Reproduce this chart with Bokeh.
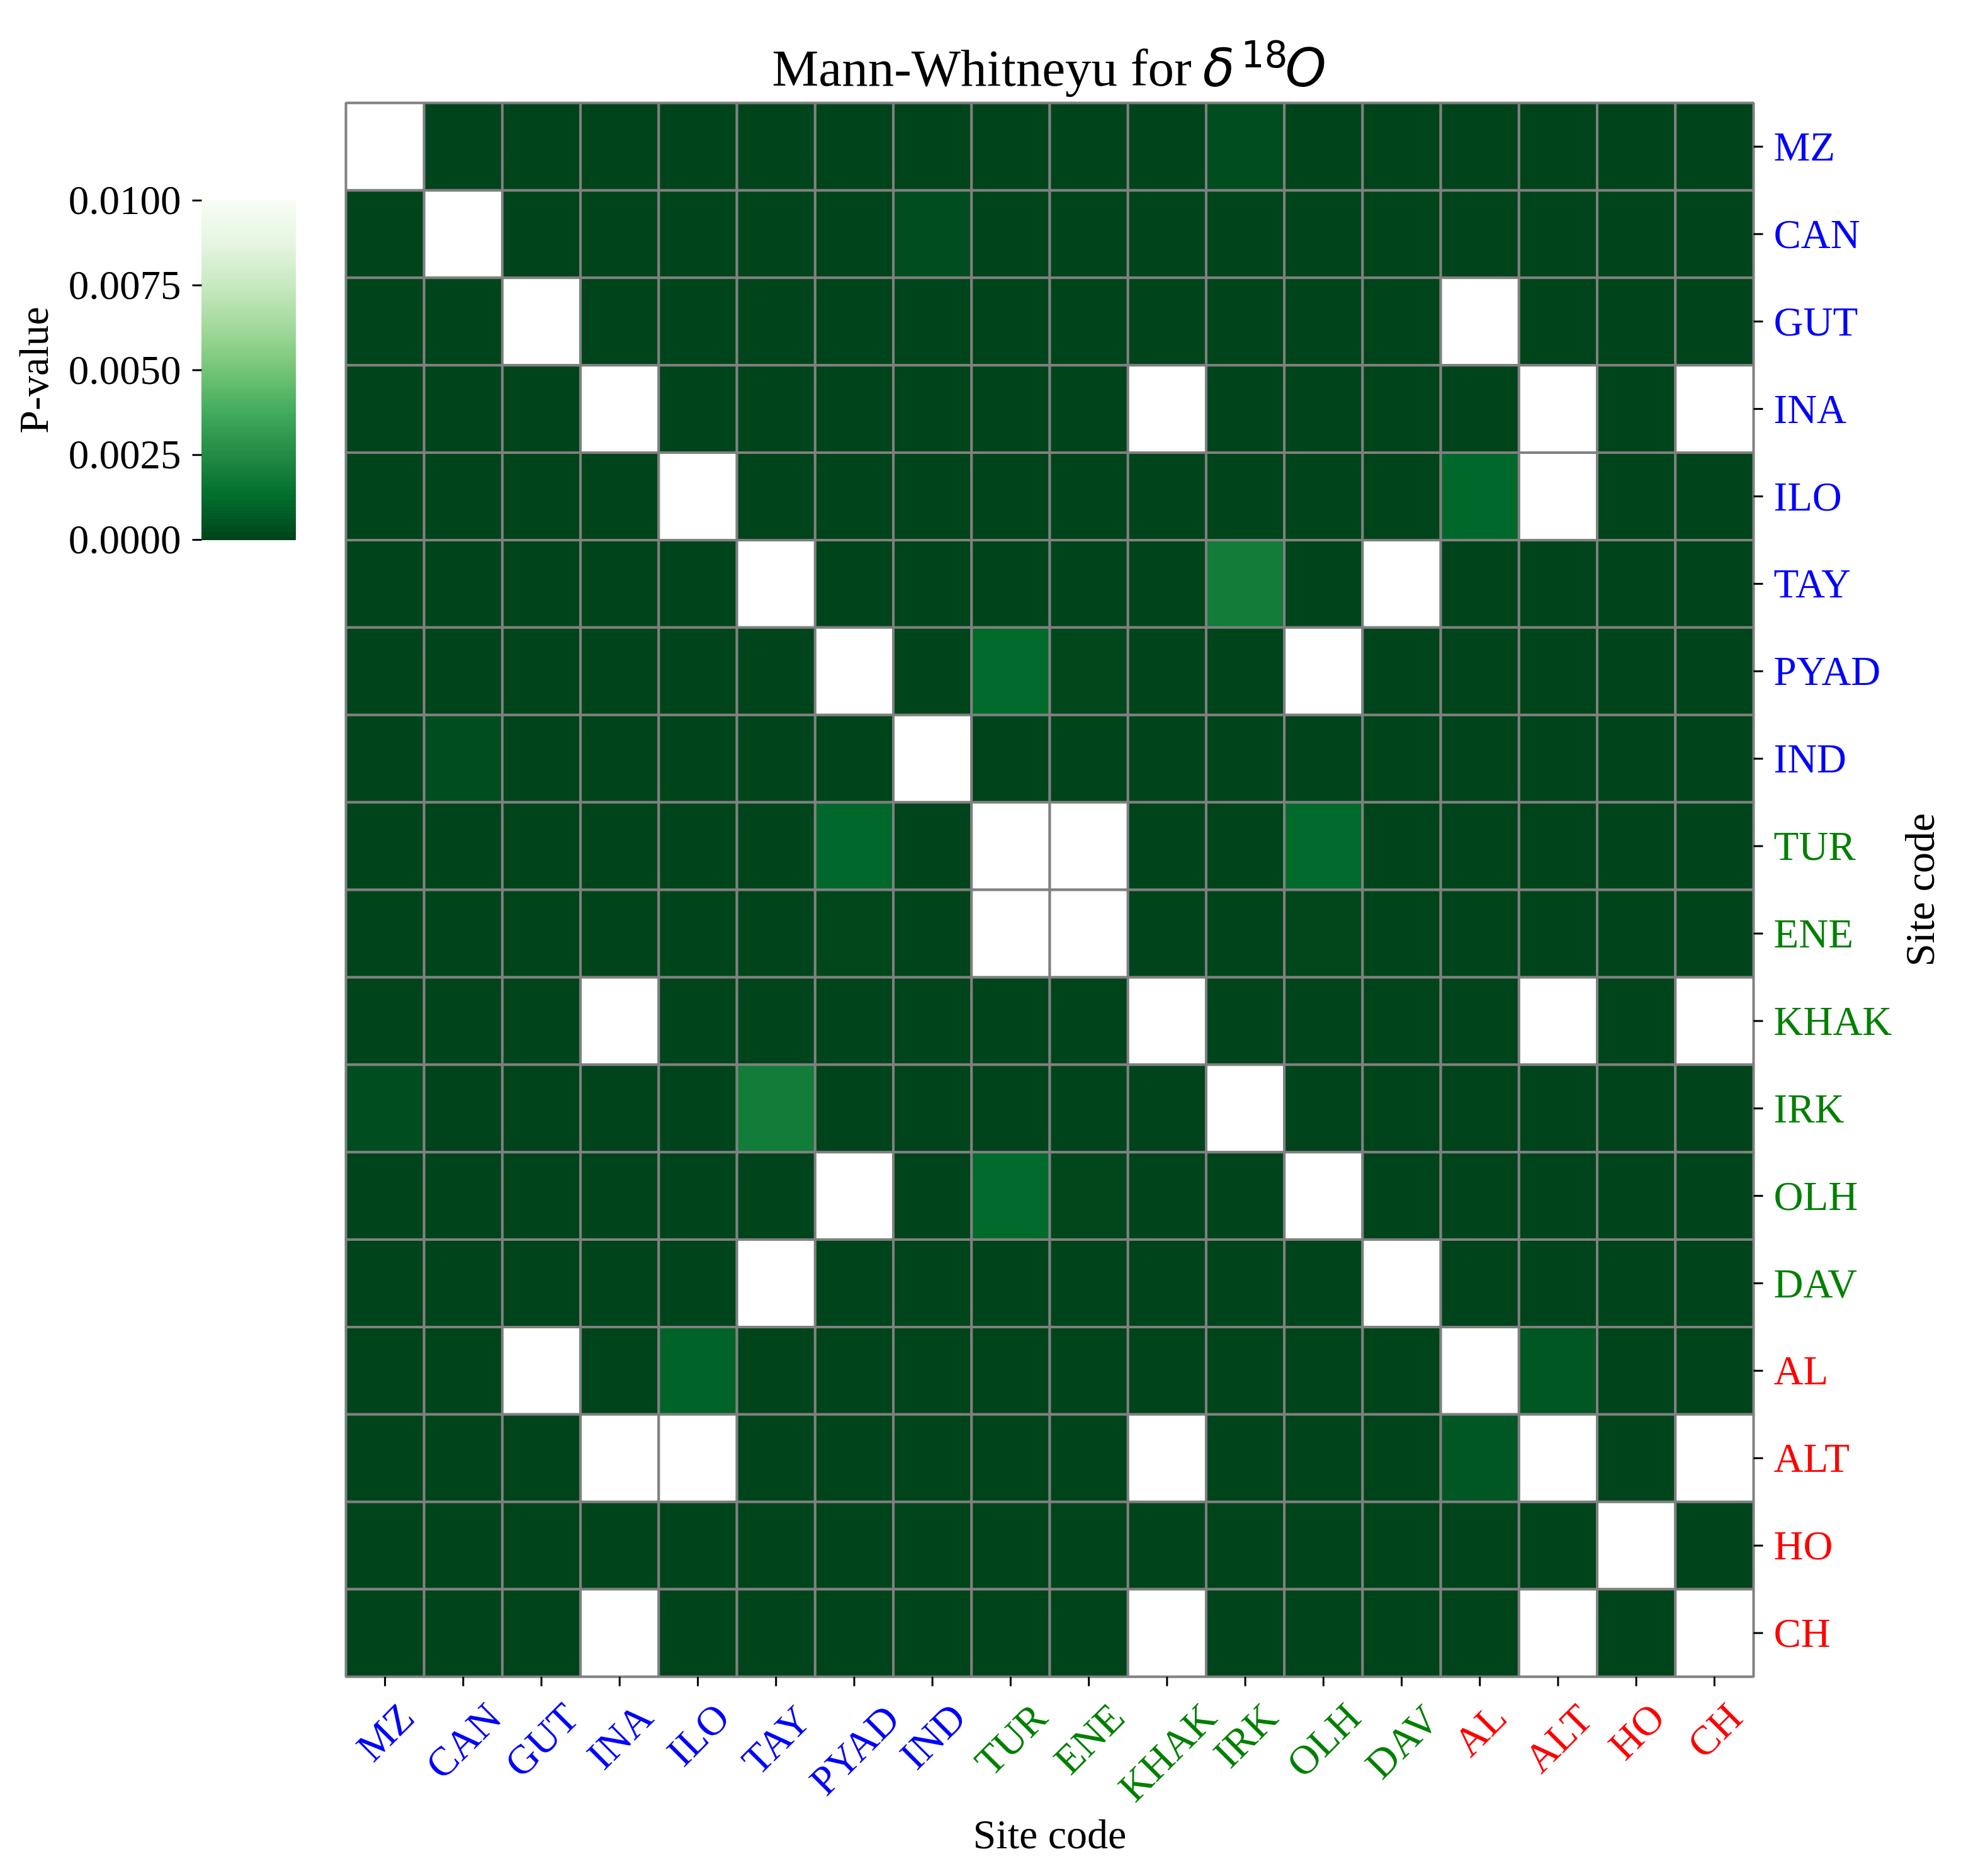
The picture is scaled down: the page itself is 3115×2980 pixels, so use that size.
import numpy as np
from bokeh.plotting import figure
from bokeh.models import ColumnDataSource, Range1d, LinearColorMapper
from bokeh.core.properties import value
from bokeh.embed import file_html
from bokeh.resources import INLINE
from bokeh.palettes import Greens9

nan = float("nan")

# ---------------- data ----------------
sites = ["MZ", "CAN", "GUT", "INA", "ILO", "TAY", "PYAD", "IND", "TUR",
         "ENE", "KHAK", "IRK", "OLH", "DAV", "AL", "ALT", "HO", "CH"]
site_region = ["blue"] * 8 + ["green"] * 6 + ["red"] * 4

p_MZ   = [nan, 1e-05, 1e-05, 1e-05, 1e-05, 1e-05, 1e-05, 1e-05, 1e-05, 1e-05, 1e-05, 0.00035, 1e-05, 1e-05, 1e-05, 1e-05, 1e-05, 1e-05]
p_CAN  = [1e-05, nan, 1e-05, 1e-05, 1e-05, 1e-05, 1e-05, 0.00035, 1e-05, 1e-05, 1e-05, 1e-05, 1e-05, 1e-05, 1e-05, 1e-05, 1e-05, 1e-05]
p_GUT  = [1e-05, 1e-05, nan, 1e-05, 1e-05, 1e-05, 1e-05, 1e-05, 1e-05, 1e-05, 1e-05, 1e-05, 1e-05, 1e-05, 0.045, 1e-05, 1e-05, 1e-05]
p_INA  = [1e-05, 1e-05, 1e-05, nan, 1e-05, 1e-05, 1e-05, 1e-05, 1e-05, 1e-05, 0.21, 1e-05, 1e-05, 1e-05, 1e-05, 0.12, 1e-05, 0.34]
p_ILO  = [1e-05, 1e-05, 1e-05, 1e-05, nan, 1e-05, 1e-05, 1e-05, 1e-05, 1e-05, 1e-05, 1e-05, 1e-05, 1e-05, 0.0011, 0.028, 1e-05, 1e-05]
p_TAY  = [1e-05, 1e-05, 1e-05, 1e-05, 1e-05, nan, 1e-05, 1e-05, 1e-05, 1e-05, 1e-05, 0.0019, 1e-05, 0.062, 1e-05, 1e-05, 1e-05, 1e-05]
p_PYAD = [1e-05, 1e-05, 1e-05, 1e-05, 1e-05, 1e-05, nan, 1e-05, 0.0012, 0.0001, 1e-05, 1e-05, 0.15, 1e-05, 1e-05, 1e-05, 1e-05, 1e-05]
p_IND  = [1e-05, 0.00035, 1e-05, 1e-05, 1e-05, 1e-05, 1e-05, nan, 1e-05, 1e-05, 1e-05, 1e-05, 1e-05, 1e-05, 1e-05, 1e-05, 1e-05, 1e-05]
p_TUR  = [1e-05, 1e-05, 1e-05, 1e-05, 1e-05, 1e-05, 0.0011, 1e-05, nan, 0.41, 1e-05, 1e-05, 0.0012, 1e-05, 1e-05, 1e-05, 1e-05, 1e-05]
p_ENE  = [1e-05, 1e-05, 1e-05, 1e-05, 1e-05, 1e-05, 0.0001, 1e-05, 0.41, nan, 1e-05, 1e-05, 0.0001, 1e-05, 1e-05, 1e-05, 1e-05, 1e-05]
p_KHAK = [1e-05, 1e-05, 1e-05, 0.21, 1e-05, 1e-05, 1e-05, 1e-05, 1e-05, 1e-05, nan, 1e-05, 1e-05, 1e-05, 1e-05, 0.09, 1e-05, 0.27]
p_IRK  = [0.00035, 1e-05, 1e-05, 1e-05, 1e-05, 0.0019, 1e-05, 1e-05, 1e-05, 1e-05, 1e-05, nan, 1e-05, 1e-05, 1e-05, 1e-05, 1e-05, 1e-05]
p_OLH  = [1e-05, 1e-05, 1e-05, 1e-05, 1e-05, 1e-05, 0.15, 1e-05, 0.0012, 0.0001, 1e-05, 1e-05, nan, 1e-05, 1e-05, 1e-05, 1e-05, 1e-05]
p_DAV  = [1e-05, 1e-05, 1e-05, 1e-05, 1e-05, 0.062, 1e-05, 1e-05, 1e-05, 1e-05, 1e-05, 1e-05, 1e-05, nan, 1e-05, 1e-05, 1e-05, 1e-05]
p_AL   = [1e-05, 1e-05, 0.045, 1e-05, 0.001, 1e-05, 1e-05, 1e-05, 1e-05, 1e-05, 1e-05, 1e-05, 1e-05, 1e-05, nan, 0.0006, 1e-05, 1e-05]
p_ALT  = [1e-05, 1e-05, 1e-05, 0.12, 0.028, 1e-05, 1e-05, 1e-05, 1e-05, 1e-05, 0.09, 1e-05, 1e-05, 1e-05, 0.0006, nan, 1e-05, 0.52]
p_HO   = [1e-05, 1e-05, 1e-05, 1e-05, 1e-05, 1e-05, 1e-05, 1e-05, 1e-05, 1e-05, 1e-05, 1e-05, 1e-05, 1e-05, 1e-05, 1e-05, nan, 1e-05]
p_CH   = [1e-05, 1e-05, 1e-05, 0.34, 1e-05, 1e-05, 1e-05, 1e-05, 1e-05, 1e-05, 0.27, 1e-05, 1e-05, 1e-05, 1e-05, 0.52, 1e-05, nan]

pvalue_rows = [p_MZ, p_CAN, p_GUT, p_INA, p_ILO, p_TAY, p_PYAD, p_IND, p_TUR,
               p_ENE, p_KHAK, p_IRK, p_OLH, p_DAV, p_AL, p_ALT, p_HO, p_CH]

cbar_ticks = [0.0, 0.0025, 0.005, 0.0075, 0.01]
p_low, p_high = 0.0, 0.01

# ---------------- colour map (Greens, reversed) ----------------
def interp_palette(colors, n):
    rgb = np.array([[int(c[i:i + 2], 16) for i in (1, 3, 5)] for c in colors], float)
    pos = np.linspace(0, 1, len(colors))
    t = np.linspace(0, 1, n)
    out = np.stack([np.interp(t, pos, rgb[:, k]) for k in range(3)], axis=1)
    return ["#%02x%02x%02x" % tuple(int(round(v)) for v in c) for c in out]

palette = interp_palette(list(Greens9), 256)  # dark -> light
mapper = LinearColorMapper(palette=palette, low=p_low, high=p_high,
                           high_color="white", nan_color="white")

# ---------------- layout (canvas pixels) ----------------
CW, CH = 3100, 2970
HM_L, HM_R, HM_T, HM_B = 549, 2785, 163, 2663      # heat-map frame
CB_L, CB_R, CB_T, CB_B = 320, 469, 318, 857        # colour bar
N = len(sites)
sx = (HM_R - HM_L) / N
sy = (HM_B - HM_T) / N
dx = 1.0 / sx   # data units per pixel (x)
dy = 1.0 / sy   # data units per pixel (y)

def X(px):
    return (px - HM_L) / sx

def Y(py):
    return (HM_B - py) / sy

SERIF = value("Liberation Serif")
SANS = value("DejaVu Sans")
FS = 65
MID = 0.35  # distance (em) from alphabetic baseline to the text "middle"

p = figure(frame_width=CW, frame_height=CH,
           x_range=Range1d(X(0), X(CW)), y_range=Range1d(Y(CH), Y(0)),
           x_axis_location=None, y_axis_location=None, min_border=0,
           toolbar_location=None, tools="", output_backend="svg",
           background_fill_color="white", border_fill_color="white")
p.grid.visible = False
p.outline_line_color = None

cbw = CB_R - CB_L
cbh = CB_B - CB_T
span = p_high - p_low
p.extra_x_ranges = {"cbx": Range1d(-CB_L / cbw, (CW - CB_L) / cbw)}
p.extra_y_ranges = {"cby": Range1d(p_low - (CH - CB_B) / cbh * span,
                                   p_low + CB_B / cbh * span)}

# ---------------- heat map cells ----------------
xs, ys, vals = [], [], []
for i, r in enumerate(pvalue_rows):
    for j, v in enumerate(r):
        xs.append(j + 0.5)
        ys.append(N - 0.5 - i)
        vals.append(v)
src = ColumnDataSource(dict(x=xs, y=ys, p=vals))
p.rect(x="x", y="y", width=1, height=1, source=src,
       fill_color={"field": "p", "transform": mapper},
       line_color="#808080", line_width=4)

# ---------------- ticks ----------------
centers = [k + 0.5 for k in range(N)]
p.segment(x0=centers, x1=centers, y0=[0] * N, y1=[-15 * dy] * N,
          line_color="black", line_width=3)
rows_c = [N - 0.5 - k for k in range(N)]
p.segment(x0=[N] * N, x1=[N + 15 * dx] * N, y0=rows_c, y1=rows_c,
          line_color="black", line_width=3)

# Times-like advance widths (per 1000 em), used to centre rotated labels
adv = dict(A=722, C=667, D=722, E=611, G=722, H=722, I=333, K=722, L=611, M=889,
           N=722, O=722, P=556, R=667, T=611, U=722, V=722, Y=722, Z=611)
ylab_pos = []
for s in sites:
    w = sum(adv[c] for c in s) / 1000.0 * FS
    ylab_pos.append(-(38 + 0.354 * (w + 0.662 * FS)) * dy)

xl = ColumnDataSource(dict(x=centers, y=ylab_pos, text=sites, color=site_region))
p.text(x="x", y="y", text="text", source=xl, text_color="color",
       angle=np.pi / 4, text_align="center", text_baseline="middle",
       text_font=SERIF, text_font_size=f"{FS}px")

yl = ColumnDataSource(dict(x=[N + 32 * dx] * N, y=rows_c, text=sites, color=site_region))
p.text(x="x", y="y", text="text", source=yl, text_color="color",
       text_align="left", text_baseline="middle",
       text_font=SERIF, text_font_size=f"{FS}px")

# axis titles (baseline targets: bottom 2936, right 3072)
p.text(x=[N / 2], y=[Y(2936 - MID * 66)], text=["Site code"], text_color="black",
       text_align="center", text_baseline="middle",
       text_font=SERIF, text_font_size="66px")
p.text(x=[X(3072 - MID * 66)], y=[N / 2], text=["Site code"], text_color="black",
       angle=np.pi / 2, text_align="center", text_baseline="middle",
       text_font=SERIF, text_font_size="66px")

# title: Mann-Whitneyu for δ^18 O   (baseline 137, superscript baseline 105)
p.text(x=[X(1226)], y=[Y(137 - MID * 83)], text=["Mann-Whitneyu for"], text_color="black",
       text_align="left", text_baseline="middle",
       text_font=SERIF, text_font_size="83px")
p.text(x=[X(1910)], y=[Y(137 - MID * 83)], text=["δ"], text_color="black",
       text_align="left", text_baseline="middle",
       text_font=SANS, text_font_style="italic", text_font_size="83px")
p.text(x=[X(1971)], y=[Y(105 - MID * 58)], text=["18"], text_color="black",
       text_align="left", text_baseline="middle",
       text_font=SANS, text_font_size="58px")
p.text(x=[X(2041)], y=[Y(137 - MID * 83)], text=["O"], text_color="black",
       text_align="left", text_baseline="middle",
       text_font=SANS, text_font_style="italic", text_font_size="83px")

# ---------------- colour bar ----------------
edges = np.linspace(p_low, p_high, len(palette) + 1)
p.quad(left=0, right=1, bottom=edges[:-1], top=edges[1:],
       fill_color=palette, line_color=palette, line_width=1,
       x_range_name="cbx", y_range_name="cby")
nt = len(cbar_ticks)
p.segment(x0=[-15 / cbw] * nt, x1=[0] * nt, y0=cbar_ticks, y1=cbar_ticks,
          line_color="black", line_width=3, x_range_name="cbx", y_range_name="cby")
p.text(x=[-33 / cbw] * nt, y=cbar_ticks, text=["%.4f" % t for t in cbar_ticks],
       text_color="black", text_align="right", text_baseline="middle",
       text_font=SERIF, text_font_size=f"{FS}px",
       x_range_name="cbx", y_range_name="cby")
p.text(x=[(53 - CB_L) / cbw], y=[(p_low + p_high) / 2], text=["P-value"],
       text_color="black", angle=np.pi / 2, text_align="center", text_baseline="middle",
       text_font=SERIF, text_font_size="66px",
       x_range_name="cbx", y_range_name="cby")

open("out.html", "w").write(file_html(p, INLINE))
